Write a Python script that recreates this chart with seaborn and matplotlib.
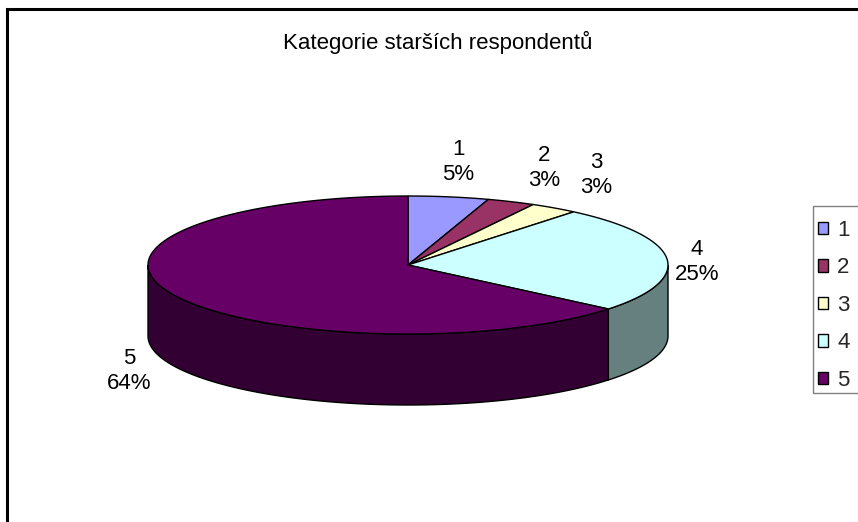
import numpy as np
import matplotlib
matplotlib.use("Agg")
import matplotlib.pyplot as plt
import matplotlib.patches as mpatches
import seaborn as sns

# ── Data ──────────────────────────────────────────────────────────────────────
TITLE = "Kategorie starších respondentů"
CATEGORIES = ["1", "2", "3", "4", "5"]
PERCENTS = [5, 3, 3, 25, 64]
TOP_COLORS = ["#9999FF", "#993366", "#FFFFCC", "#CCFFFF", "#660066"]

# ── Layout (pixel coordinates of an 858x522 canvas) ───────────────────────────
W, H = 858, 522
CX, CY = 408, 265        # pie centre
RX, RY = 260, 69         # top ellipse radii
DEPTH = 71               # thickness of the pie
LABEL_OFFSET = 37
# small hand nudges so the data labels sit where Excel put them
LABEL_NUDGE = [(4, 2), (18, 0), (21, -2), (-7, 7), (-10, -10)]
FONT_SIZE = 16

sns.set_theme(style="white")
plt.rcParams["font.family"] = ["Liberation Sans", "DejaVu Sans"]


def rim(theta_deg, dy=0.0):
    """Point on the rim, theta clockwise from 12 o'clock."""
    t = np.radians(theta_deg)
    return CX + RX * np.sin(t), CY - RY * np.cos(t) + dy


def shade(hex_color, f=0.5):
    r, g, b = matplotlib.colors.to_rgb(hex_color)
    return (r * f, g * f, b * f)


fig = plt.figure(figsize=(W / 100, H / 100), dpi=100)
ax = fig.add_axes([0, 0, 1, 1])
ax.set_xlim(0, W)
ax.set_ylim(H, 0)
ax.axis("off")

fracs = np.array(PERCENTS, dtype=float) / sum(PERCENTS)
bounds = np.concatenate([[0], np.cumsum(fracs) * 360])

# side walls (only the front half, 90°..270°, is visible)
for i, col in enumerate(TOP_COLORS):
    a0, a1 = max(bounds[i], 90), min(bounds[i + 1], 270)
    if a1 <= a0:
        continue
    th = np.linspace(a0, a1, 80)
    top = [rim(t) for t in th]
    bot = [rim(t, DEPTH) for t in th[::-1]]
    ax.add_patch(mpatches.Polygon(top + bot, closed=True, facecolor=shade(col),
                                  edgecolor="black", linewidth=1.0, zorder=1))

# top faces
for i, col in enumerate(TOP_COLORS):
    th = np.linspace(bounds[i], bounds[i + 1], 120)
    pts = [(CX, CY)] + [rim(t) for t in th]
    ax.add_patch(mpatches.Polygon(pts, closed=True, facecolor=col,
                                  edgecolor="black", linewidth=1.0, zorder=2))

# data labels
for i, (cat, pct) in enumerate(zip(CATEGORIES, PERCENTS)):
    mid = (bounds[i] + bounds[i + 1]) / 2
    t = np.radians(mid)
    dy = DEPTH if 90 < mid < 270 else 0
    x, y = rim(mid, dy)
    x += LABEL_OFFSET * np.sin(t) + LABEL_NUDGE[i][0]
    y -= LABEL_OFFSET * np.cos(t) - LABEL_NUDGE[i][1]
    ax.text(x, y, f"{cat}\n{pct}%", ha="center", va="center", fontsize=FONT_SIZE,
            linespacing=1.25, color="black", zorder=3)

# title
ax.text(438, 42, TITLE, ha="center", va="center", fontsize=FONT_SIZE, color="black")

# chart border (only left and top edges lie inside the image)
ax.plot([7, 7, W + 5], [H + 5, 9, 9], color="black", linewidth=2.2,
        solid_joinstyle="miter", zorder=4)

# legend frame
ax.add_patch(mpatches.Rectangle((813, 206), 80, 187, facecolor="white",
                                edgecolor="#808080", linewidth=1.0, zorder=3))
handles = [mpatches.Patch(facecolor=c, edgecolor="black", linewidth=1.0, label=l)
           for c, l in zip(TOP_COLORS, CATEGORIES)]
leg = ax.legend(handles=handles, loc="upper left", frameon=False,
                bbox_to_anchor=(818 / W, 1 - 220 / H), bbox_transform=fig.transFigure,
                fontsize=FONT_SIZE, handlelength=0.47, handleheight=0.47,
                handletextpad=0.4, labelspacing=0.74, borderpad=0.0,
                borderaxespad=0.0)
leg.set_zorder(5)

fig.savefig("out.png", dpi=100, facecolor="white")
